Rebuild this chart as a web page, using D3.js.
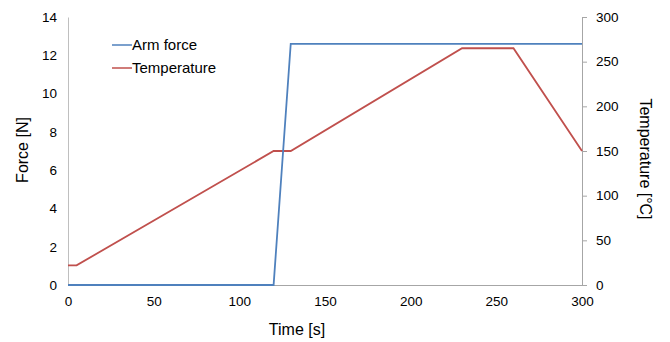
<!DOCTYPE html>
<html>
<head>
<meta charset="utf-8">
<script src="https://cdn.jsdelivr.net/npm/d3@7"></script>
<style>
  body { margin: 0; background: #fff; }
  svg { font-family: "Liberation Sans", Arial, sans-serif; }
</style>
</head>
<body>
<div id="chart"></div>
<script>
// data
var forceTime = [0, 120, 130, 300];
var forceValues = [0, 0, 12.6, 12.6];
var tempTime = [0, 5, 120, 130, 230, 260, 300];
var tempValues = [22, 22, 150, 150, 265, 265, 150];
var xTicks = [0, 50, 100, 150, 200, 250, 300];
var forceTicks = [0, 2, 4, 6, 8, 10, 12, 14];
var tempTicks = [0, 50, 100, 150, 200, 250, 300];

var width = 670, height = 342;
var margin = {top: 17, right: 88, bottom: 57, left: 68};

var svg = d3.select("#chart").append("svg")
    .attr("width", width)
    .attr("height", height);

var x = d3.scaleLinear().domain([0, 300]).range([margin.left, width - margin.right]);
var yF = d3.scaleLinear().domain([0, 14]).range([height - margin.bottom, margin.top]);
var yT = d3.scaleLinear().domain([0, 300]).range([height - margin.bottom, margin.top]);

// left axis
var gl = svg.append("g")
    .attr("transform", "translate(" + margin.left + ",0)")
    .call(d3.axisLeft(yF).tickValues(forceTicks).tickSize(0).tickPadding(11));
gl.select(".domain").attr("stroke", "#bfbfbf");

// right axis
var gr = svg.append("g")
    .attr("transform", "translate(" + (width - margin.right) + ",0)")
    .call(d3.axisRight(yT).tickValues(tempTicks).tickSize(5).tickSizeOuter(0).tickPadding(9));
gr.select(".domain").attr("stroke", "#a6a6a6");
gr.selectAll(".tick line").attr("stroke", "#a6a6a6");

// bottom axis
var gb = svg.append("g")
    .attr("transform", "translate(0," + (height - margin.bottom) + ")")
    .call(d3.axisBottom(x).tickValues(xTicks).tickSize(0).tickPadding(11));
gb.select(".domain").attr("stroke", "#a6a6a6");

svg.selectAll(".tick text")
    .attr("font-size", 13.5)
    .attr("font-family", "Liberation Sans, Arial, sans-serif")
    .attr("fill", "#000");

// axis titles
svg.append("text")
    .attr("x", 297)
    .attr("y", 335)
    .attr("text-anchor", "middle")
    .attr("font-size", 16)
    .text("Time [s]");

svg.append("text")
    .attr("transform", "translate(28,150) rotate(-90)")
    .attr("text-anchor", "middle")
    .attr("font-size", 16)
    .text("Force [N]");

svg.append("text")
    .attr("transform", "translate(640,159) rotate(90)")
    .attr("text-anchor", "middle")
    .attr("font-size", 16)
    .text("Temperature [°C]");

// lines
var forceLine = d3.line()
    .x(function(d, i) { return x(forceTime[i]); })
    .y(function(d) { return yF(d); });

var tempLine = d3.line()
    .x(function(d, i) { return x(tempTime[i]); })
    .y(function(d) { return yT(d); });

svg.append("path")
    .datum(tempValues)
    .attr("fill", "none")
    .attr("stroke", "#c0504d")
    .attr("stroke-width", 1.8)
    .attr("d", tempLine);

svg.append("path")
    .datum(forceValues)
    .attr("fill", "none")
    .attr("stroke", "#4f81bd")
    .attr("stroke-width", 1.8)
    .attr("d", forceLine);

// legend
var legend = [
    {name: "Arm force", color: "#4f81bd"},
    {name: "Temperature", color: "#c0504d"}
];
var lg = svg.selectAll(".legend")
    .data(legend)
    .enter().append("g")
    .attr("transform", function(d, i) { return "translate(112," + (45 + i * 23) + ")"; });
lg.append("line")
    .attr("x1", 0).attr("x2", 20)
    .attr("stroke", function(d) { return d.color; })
    .attr("stroke-width", 1.5);
lg.append("text")
    .attr("x", 20)
    .attr("dy", "0.35em")
    .attr("font-size", 15)
    .text(function(d) { return d.name; });
</script>
</body>
</html>
